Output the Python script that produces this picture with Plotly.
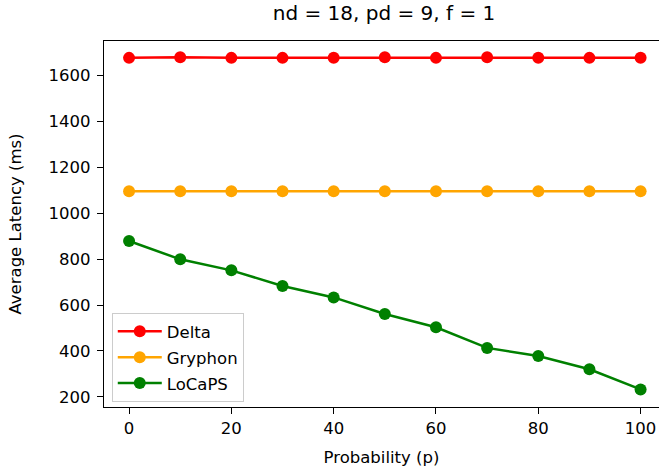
import plotly.graph_objects as go

probability = [0, 10, 20, 30, 40, 50, 60, 70, 80, 90, 100]
delta = [1677, 1680, 1677, 1677, 1678, 1680, 1677, 1680, 1678, 1677, 1678]
gryphon = [1096, 1096, 1096, 1096, 1096, 1096, 1096, 1096, 1096, 1096, 1096]
locaps = [879, 799, 751, 683, 633, 561, 503, 413, 378, 320, 232]

x_ticks = [0, 20, 40, 60, 80, 100]
y_ticks = [200, 400, 600, 800, 1000, 1200, 1400, 1600]

series = [("Delta", delta, "red"), ("Gryphon", gryphon, "orange"), ("LoCaPS", locaps, "green")]

FONT = "DejaVu Sans"
TICKFONT = dict(family=FONT, size=16.5, color="black")
fig = go.Figure()
for name, vals, col in series:
    fig.add_trace(go.Scatter(
        x=probability, y=vals, name=name, mode="lines+markers", legendgroup=name,
        line=dict(color=col, width=2.5),
        marker=dict(color=col, size=12),
    ))

fig.update_layout(
    width=659, height=474,
    margin=dict(l=104, r=0, t=41, b=67, pad=0),
    paper_bgcolor="white", plot_bgcolor="white",
    font=dict(family=FONT, size=16.5, color="black"),
    title=dict(text="nd = 18, pd = 9, f = 1", font=dict(family=FONT, size=20, color="black"),
               x=384 / 659, xanchor="center", xref="container",
               y=1 - 13 / 474, yanchor="middle", yref="container"),
    showlegend=True,
    legend=dict(x=0.014, y=0.0137, xanchor="left", yanchor="bottom",
                bgcolor="rgba(255,255,255,0.8)", bordercolor="#cccccc", borderwidth=1,
                itemwidth=44, tracegroupgap=1.5,
                font=dict(family=FONT, size=16.5, color="black")),
    xaxis=dict(range=[-4.9, 103.6], tickvals=x_ticks, ticktext=[str(v) for v in x_ticks],
               tickfont=TICKFONT, automargin=False,
               showgrid=False, zeroline=False, showline=True, linecolor="black", linewidth=1.3,
               mirror=True, ticks="outside", ticklen=6, tickwidth=1.3, tickcolor="black",
               title=dict(text="Probability (p)", standoff=14, font=dict(family=FONT, size=16.5))),
    yaxis=dict(range=[155.5, 1750.5], tickvals=y_ticks, ticktext=[str(v) for v in y_ticks],
               tickfont=TICKFONT, automargin=False, ticklabelstandoff=3,
               showgrid=False, zeroline=False, showline=True, linecolor="black", linewidth=1.3,
               mirror=False, ticks="outside", ticklen=6, tickwidth=1.3, tickcolor="black",
               title=dict(text="Average Latency (ms)", standoff=22, font=dict(family=FONT, size=16.5))),
)

fig.write_html("out.html", config={"displayModeBar": False},
               post_script="document.body.style.margin='0';document.body.style.overflow='hidden';")
